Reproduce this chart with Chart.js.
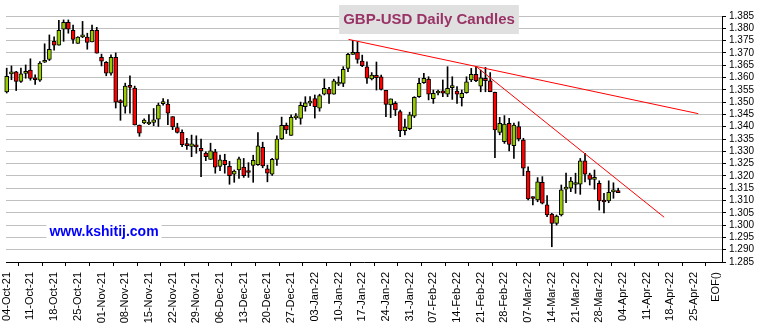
<!DOCTYPE html>
<html>
<head>
<meta charset="utf-8">
<script src="https://cdn.jsdelivr.net/npm/chart.js@4.4.1/dist/chart.umd.min.js"></script>
<style>
  html, body { margin: 0; padding: 0; background: #fff; }
  #wrap { width: 760px; height: 326px; }
</style>
</head>
<body>
<div id="wrap"><canvas id="candles" width="760" height="326"></canvas></div>
<script>
var TITLE = "GBP-USD Daily Candles";
var SITE = "www.kshitij.com";

// one candle per weekday, index 0 = 04-Oct-21
var opens = [1.3541,1.3615,1.3623,1.3584,1.3617,1.3630,1.3593,1.3589,1.3662,1.3673,
  1.3747,1.3731,1.3796,1.3824,1.3792,1.3739,1.3765,1.3764,1.3745,1.3792,
  1.3682,1.3662,1.3618,1.3682,1.3500,1.3482,1.3562,1.3557,1.3407,1.3415,
  1.3411,1.3417,1.3431,1.3494,1.3492,1.3441,1.3396,1.3377,1.3325,1.3320,
  1.3320,1.3312,1.3293,1.3267,1.3298,1.3239,1.3263,1.3239,1.3207,1.3224,
  1.3236,1.3216,1.3243,1.3246,1.3316,1.3229,1.3207,1.3267,1.3350,1.3406,
  1.3365,1.3436,1.3434,1.3481,1.3496,1.3514,1.3475,1.3532,1.3553,1.3532,
  1.3573,1.3576,1.3637,1.3694,1.3702,1.3667,1.3643,1.3594,1.3609,1.3603,
  1.3548,1.3489,1.3495,1.3461,1.3384,1.3392,1.3443,1.3522,1.3579,1.3594,
  1.3514,1.3537,1.3546,1.3532,1.3559,1.3545,1.3518,1.3538,1.3590,1.3613,
  1.3565,1.3597,1.3586,1.3540,1.3377,1.3339,1.3414,1.3323,1.3400,1.3346,
  1.3220,1.3110,1.3102,1.3174,1.3082,1.3045,1.3007,1.3041,1.3146,1.3150,
  1.3165,1.3166,1.3261,1.3204,1.3186,1.3170,1.3096,1.3098,1.3135,1.3139];
var highs = [1.3638,1.3647,1.3625,1.3638,1.3651,1.3676,1.3611,1.3665,1.3737,1.3773,
  1.3765,1.3832,1.3834,1.3834,1.3813,1.3766,1.3828,1.3780,1.3813,1.3804,
  1.3695,1.3665,1.3692,1.3700,1.3510,1.3577,1.3607,1.3565,1.3407,1.3432,
  1.3449,1.3474,1.3496,1.3514,1.3510,1.3441,1.3414,1.3387,1.3353,1.3366,
  1.3363,1.3350,1.3298,1.3333,1.3308,1.3285,1.3288,1.3259,1.3224,1.3276,
  1.3271,1.3254,1.3284,1.3376,1.3337,1.3244,1.3271,1.3363,1.3439,1.3415,
  1.3448,1.3453,1.3500,1.3522,1.3522,1.3529,1.3532,1.3594,1.3560,1.3593,
  1.3603,1.3644,1.3698,1.3751,1.3746,1.3691,1.3664,1.3620,1.3663,1.3610,
  1.3548,1.3513,1.3502,1.3468,1.3431,1.3459,1.3522,1.3597,1.3617,1.3603,
  1.3549,1.3549,1.3590,1.3644,1.3603,1.3563,1.3549,1.3603,1.3637,1.3644,
  1.3630,1.3641,1.3620,1.3541,1.3438,1.3445,1.3434,1.3415,1.3420,1.3353,
  1.3237,1.3115,1.3193,1.3197,1.3120,1.3048,1.3041,1.3163,1.3211,1.3194,
  1.3211,1.3271,1.3292,1.3211,1.3224,1.3180,1.3129,1.3180,1.3172,1.3150];
var lows = [1.3537,1.3591,1.3547,1.3580,1.3597,1.3589,1.3572,1.3584,1.3661,1.3669,
  1.3711,1.3731,1.3747,1.3780,1.3739,1.3739,1.3762,1.3715,1.3745,1.3699,
  1.3647,1.3607,1.3609,1.3476,1.3426,1.3455,1.3455,1.3407,1.3361,1.3412,
  1.3408,1.3404,1.3401,1.3488,1.3408,1.3388,1.3374,1.3319,1.3308,1.3278,
  1.3292,1.3197,1.3262,1.3267,1.3211,1.3221,1.3211,1.3166,1.3174,1.3190,
  1.3194,1.3194,1.3174,1.3243,1.3233,1.3176,1.3202,1.3243,1.3348,1.3372,
  1.3365,1.3430,1.3410,1.3463,1.3485,1.3435,1.3463,1.3529,1.3495,1.3532,
  1.3567,1.3563,1.3624,1.3694,1.3658,1.3644,1.3576,1.3590,1.3549,1.3549,
  1.3441,1.3437,1.3445,1.3359,1.3367,1.3388,1.3437,1.3519,1.3576,1.3509,
  1.3495,1.3529,1.3522,1.3522,1.3511,1.3495,1.3484,1.3536,1.3583,1.3583,
  1.3542,1.3542,1.3542,1.3274,1.3367,1.3332,1.3302,1.3271,1.3342,1.3201,
  1.3102,1.3082,1.3095,1.3086,1.3034,1.2912,1.3000,1.3037,1.3091,1.3136,
  1.3129,1.3125,1.3176,1.3163,1.3146,1.3061,1.3050,1.3091,1.3109,1.3132];
var closes = [1.3605,1.3623,1.3584,1.3615,1.3619,1.3596,1.3591,1.3659,1.3670,1.3715,
  1.3731,1.3792,1.3824,1.3796,1.3755,1.3764,1.3767,1.3743,1.3792,1.3699,
  1.3666,1.3618,1.3682,1.3500,1.3498,1.3565,1.3560,1.3407,1.3374,1.3427,
  1.3413,1.3428,1.3488,1.3496,1.3455,1.3399,1.3377,1.3327,1.3323,1.3330,
  1.3318,1.3302,1.3278,1.3302,1.3235,1.3265,1.3246,1.3201,1.3220,1.3269,
  1.3201,1.3214,1.3263,1.3322,1.3241,1.3211,1.3267,1.3350,1.3406,1.3387,
  1.3438,1.3438,1.3487,1.3497,1.3498,1.3481,1.3526,1.3556,1.3532,1.3586,
  1.3575,1.3633,1.3694,1.3702,1.3674,1.3648,1.3597,1.3610,1.3599,1.3552,
  1.3491,1.3513,1.3468,1.3384,1.3398,1.3448,1.3519,1.3576,1.3597,1.3532,
  1.3536,1.3539,1.3536,1.3556,1.3561,1.3532,1.3536,1.3582,1.3613,1.3587,
  1.3599,1.3587,1.3542,1.3387,1.3414,1.3411,1.3328,1.3407,1.3350,1.3231,
  1.3106,1.3108,1.3176,1.3089,1.3041,1.3007,1.3037,1.3143,1.3148,1.3179,
  1.3167,1.3261,1.3207,1.3186,1.3188,1.3098,1.3094,1.3133,1.3137,1.3132];

// weekly ticks (day index of each Monday) and the EOF marker
var tickPos = [0,5,10,15,20,25,30,35,40,45,50,55,60,65,70,75,80,85,90,95,
  100,105,110,115,120,125,130,135,140,145,149.7];
var tickLabels = ["04-Oct-21","11-Oct-21","18-Oct-21","25-Oct-21","01-Nov-21","08-Nov-21",
  "15-Nov-21","22-Nov-21","29-Nov-21","06-Dec-21","13-Dec-21","20-Dec-21","27-Dec-21",
  "03-Jan-22","10-Jan-22","17-Jan-22","24-Jan-22","31-Jan-22","07-Feb-22","14-Feb-22",
  "21-Feb-22","28-Feb-22","07-Mar-22","14-Mar-22","21-Mar-22","28-Mar-22","04-Apr-22",
  "11-Apr-22","18-Apr-22","25-Apr-22","EOF()"];

// trend lines: [day index, price]
var trendUpper = [[72.1, 1.3755], [145.9, 1.3453]];
var trendLower = [[99, 1.3645], [138.7, 1.3032]];

var GREEN = "#99cc00";
var RED = "#ff0000";

var wickData = [], bodyData = [], bodyColors = [];
for (var i = 0; i < opens.length; i++) {
  wickData.push({x: i, y: [lows[i], highs[i]]});
  bodyData.push({x: i, y: [opens[i], closes[i]]});
  if (closes[i] > opens[i]) bodyColors.push(GREEN);
  else if (closes[i] < opens[i]) bodyColors.push(RED);
  else bodyColors.push("#000");
}

function toPoints(arr) {
  return arr.map(function (p) { return {x: p[0], y: p[1]}; });
}

// title box and site name
var labelsPlugin = {
  id: "labels",
  afterDraw: function (chart) {
    var ctx = chart.ctx;
    ctx.save();
    ctx.font = "bold 15px 'Liberation Sans', Arial, sans-serif";
    var w = ctx.measureText(TITLE).width;
    ctx.fillStyle = "#e0e0e0";
    ctx.fillRect(429 - w / 2 - 4, 5, w + 8, 29);
    ctx.fillStyle = "#993366";
    ctx.textAlign = "center";
    ctx.textBaseline = "middle";
    ctx.fillText(TITLE, 429, 20);

    ctx.font = "bold 14px 'Liberation Sans', Arial, sans-serif";
    var w2 = ctx.measureText(SITE).width;
    ctx.fillStyle = "#fff";
    ctx.fillRect(104 - w2 / 2 - 3, 221, w2 + 6, 20);
    ctx.fillStyle = "#0000ff";
    ctx.fillText(SITE, 104, 232);
    ctx.restore();
  }
};

new Chart(document.getElementById("candles"), {
  type: "bar",
  data: {
    datasets: [
      {
        type: "line",
        data: toPoints(trendUpper),
        borderColor: RED,
        borderWidth: 1,
        pointRadius: 0,
        order: -1
      },
      {
        type: "line",
        data: toPoints(trendLower),
        borderColor: RED,
        borderWidth: 1,
        pointRadius: 0,
        order: -1
      },
      {
        data: bodyData,
        backgroundColor: bodyColors,
        borderColor: "#000",
        borderWidth: 1,
        borderSkipped: false,
        barThickness: 4,
        minBarLength: 2,
        grouped: false,
        clip: 8,
        order: 0
      },
      {
        data: wickData,
        backgroundColor: "#000",
        borderWidth: 0,
        barThickness: 1,
        grouped: false,
        clip: 8,
        order: 1
      }
    ]
  },
  options: {
    responsive: false,
    animation: false,
    layout: { padding: { left: 6, top: 16, right: 0, bottom: 0 } },
    plugins: {
      legend: { display: false },
      tooltip: { enabled: false },
      title: { display: false }
    },
    scales: {
      x: {
        type: "linear",
        min: -0.15,
        max: 150.9,
        offset: false,
        grid: { drawOnChartArea: false, tickColor: "#000", tickLength: 4 },
        border: { color: "#000" },
        afterBuildTicks: function (scale) {
          scale.ticks = tickPos.map(function (v) { return {value: v}; });
        },
        afterFit: function (scale) { scale.height = 64; },
        ticks: {
          autoSkip: false,
          maxRotation: 90,
          minRotation: 90,
          padding: 6,
          color: "#000",
          font: { family: "'Liberation Sans', Arial, sans-serif", size: 11 },
          callback: function (v, i) { return tickLabels[i]; }
        }
      },
      y: {
        position: "right",
        min: 1.285,
        max: 1.385,
        grid: { color: "#c0c0c0", tickColor: "#000", tickLength: 4 },
        border: { color: "#000" },
        afterFit: function (scale) { scale.width = 38; },
        ticks: {
          stepSize: 0.005,
          autoSkip: false,
          padding: 3,
          color: "#000",
          font: { family: "'Liberation Sans', Arial, sans-serif", size: 10 },
          callback: function (v) { return v.toFixed(3); }
        }
      }
    }
  },
  plugins: [labelsPlugin]
});
</script>
</body>
</html>
